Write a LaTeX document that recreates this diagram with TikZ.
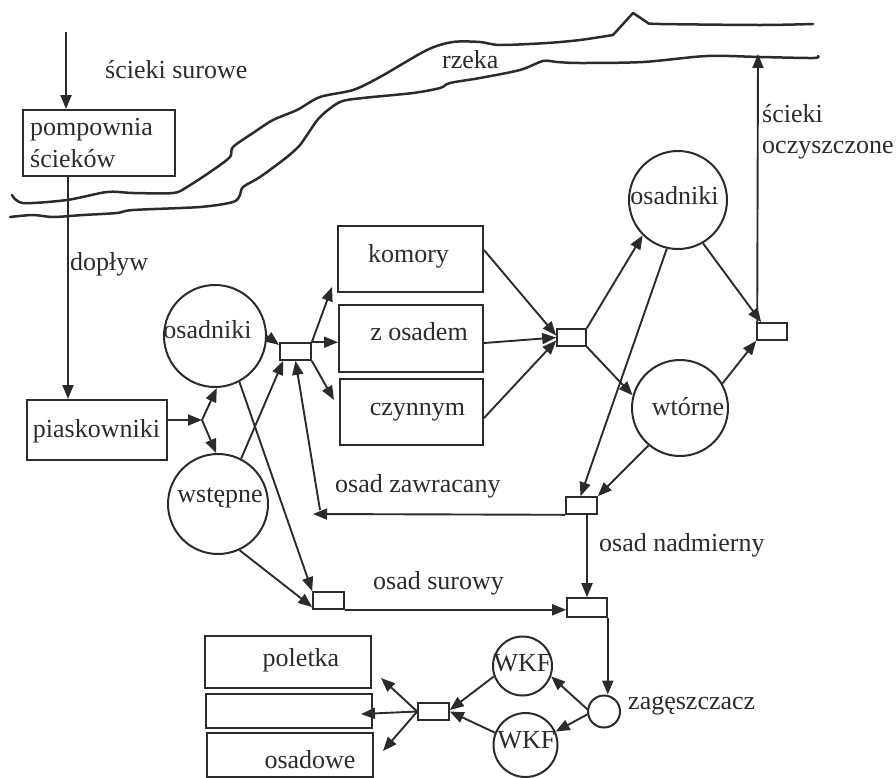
\documentclass[tikz,border=0pt]{standalone}
\usepackage{fontspec}
\setmainfont{Liberation Serif}
\usetikzlibrary{arrows.meta}
\definecolor{ink}{HTML}{2B2B2B}
\begin{document}
\begin{tikzpicture}[x=1pt,y=-1pt,color=ink,
  every node/.style={font=\fontsize{26pt}{32pt}\selectfont},
  arr/.style={line width=1.9pt,-{Triangle[length=14pt,width=11pt]}},
  box/.style={draw,line width=2pt,rectangle,inner sep=0pt},
  sbox/.style={box,line width=1.6pt,minimum width=30pt,minimum height=17pt},
  circ/.style={draw,circle,line width=2pt,inner sep=0pt},
  lbl/.style={anchor=base west,inner sep=0pt},
  ctr/.style={anchor=base,inner sep=0pt},
  river/.style={line width=2.5pt,line cap=round,line join=round}]
\useasboundingbox (0,0) rectangle (896,777);

% river
\draw[river] plot[smooth,tension=0.5] coordinates {(12,195) (23,203) (67,200) (107,192) (133,193) (173,193) (187,187) (213,170) (230,157) (233,147) (253,133) (273,120) (297,110) (320,97) (353,90) (380,77) (427,50) (453,42) (480,42) (500,45) (547,43) (580,40) (613,35)};
\draw[river] (613,35) -- (633,13) -- (648,23);
\draw[river] plot[smooth,tension=0.5] coordinates {(648,23) (660,24) (760,25) (813,24)};
\draw[river] plot[smooth,tension=0.5] coordinates {(10,217) (33,215) (53,217) (83,215) (117,213) (133,210) (200,207) (233,202) (240,195) (243,187) (260,177) (287,157) (300,145) (307,135) (320,117) (340,102) (363,98) (413,93) (440,88) (450,83) (480,78) (520,70) (543,61) (557,62) (580,63) (643,62) (707,56) (760,57) (813,58) (818,56)};

% boxes
\node[box,minimum width=152pt,minimum height=66pt] (pomp) at (99,143) {};
\node[box,minimum width=140pt,minimum height=60pt] (piask) at (97,430) {};
\node[box,minimum width=145pt,minimum height=66pt] (komory) at (410.5,259) {};
\node[box,minimum width=144pt,minimum height=67pt] (zosadem) at (411,338.5) {};
\node[box,minimum width=143pt,minimum height=66pt] (czynnym) at (411.5,412) {};
\node[box,minimum width=166pt,minimum height=52pt] (pol1) at (288,661.5) {};
\node[box,minimum width=166pt,minimum height=34pt] (pol2) at (289,711) {};
\node[box,minimum width=166pt,minimum height=44pt] (pol3) at (290,755) {};

% circles
\node[circ,minimum size=102pt] (osL) at (215,336) {};
\node[circ,minimum size=100pt] (wst) at (218,504) {};
\node[circ,minimum size=98pt] (osR) at (678,200) {};
\node[circ,minimum size=96pt] (wt) at (680,408) {};
\node[circ,minimum size=32pt] (zag) at (604,711.5) {};
\node[circ,minimum size=59pt] (wkf1) at (522.5,666) {};
\node[circ,minimum size=64pt] (wkf2) at (525.5,745) {};

% small boxes
\node[sbox,minimum width=31pt] (b1) at (295.5,351.5) {};
\node[sbox,minimum width=29pt] (b2) at (571.5,337.5) {};
\node[sbox] (b3) at (772,331.5) {};
\node[sbox,minimum width=31pt] (b4) at (581.5,505.5) {};
\node[sbox,minimum width=31pt] (b5) at (328.5,600.5) {};
\node[sbox,minimum width=40pt,minimum height=19pt] (b6) at (587,607.5) {};
\node[sbox,minimum width=31pt] (b7) at (433.5,711.5) {};

% texts in shapes
\node[lbl] (tpomp1) at (30,135) {pompownia};
\node[lbl] (tpomp2) at (30,167) {ścieków};
\node[ctr] (tpiask) at (96.5,437) {piaskowniki};
\node[ctr] (tkom) at (408.5,262) {komory};
\node[ctr] (tzos) at (419,340) {z osadem};
\node[ctr] (tczy) at (417.5,415) {czynnym};
\node[ctr] (tpol1) at (301,666) {poletka};
\node[ctr] (tpol3) at (310,768) {osadowe};
\node[ctr] (tosL) at (207.5,338) {osadniki};
\node[ctr] (twst) at (220,502) {wstępne};
\node[ctr] (tosR) at (674.5,204) {osadniki};
\node[ctr] (twt) at (688,415) {wtórne};
\node[ctr] (twkf1) at (522.5,671) {WKF};
\node[ctr] (twkf2) at (526.5,748) {WKF};

% labels
\node[lbl] (lss) at (105,78) {ścieki surowe};
\node[lbl] (lrz) at (442,68) {rzeka};
\node[lbl] (lsc1) at (762,122) {ścieki};
\node[lbl] (lsc2) at (762,153) {oczyszczone};
\node[lbl] (ldop) at (70,270) {dopływ};
\node[lbl] (lzaw) at (335,492) {osad zawracany};
\node[lbl] (lnad) at (599,551) {osad nadmierny};
\node[lbl] (lsur) at (373,589) {osad surowy};
\node[lbl] (lzag) at (628,709) {zagęszczacz};

% coordinates
\coordinate (in) at (66,32);
\coordinate (br) at (202,420);
\coordinate (r1) at (320,510);
\coordinate (zl) at (313,514);
\coordinate (out) at (758,54);

% connectors
\draw[arr] (in) -- (in |- pomp.north);
\draw[arr] ([xshift=-31pt]pomp.south) -- ([xshift=-29pt]piask.north);
\draw[arr] (piask.east |- br) -- (br);
\draw[arr] (br) -- (osL.-88);
\draw[arr] (br) -- (wst.92);
\draw[arr] (osL.east) -- ([yshift=6.5pt]b1.west);
\draw[arr] (wst.63) -- ([xshift=4pt]b1.south west);
\draw[arr] (r1) -- (b1.south);
\draw[arr] (b4.south west) -- (zl);
\draw[arr] (b1.north east) -- ([xshift=-5pt,yshift=6pt]komory.south west);
\draw[arr] (b1.north east) -- (zosadem.west |- b1.north east);
\draw[arr] (b1.south east) -- ([xshift=-5pt,yshift=12pt]czynnym.west);
\draw[arr] ([yshift=9pt]komory.east) -- ([yshift=2pt]b2.west);
\draw[arr] ([yshift=-4.5pt]zosadem.east) -- (b2.west);
\draw[arr] ([yshift=-6pt]czynnym.east) -- ([yshift=-3pt]b2.west);
\draw[arr] (b2.north east) -- (osR.225);
\draw[arr] (b2.south east) -- (wt.165);
\draw[arr] (osR.-60) -- ([xshift=5pt]b3.north west);
\draw[arr] (wt.30) -- (b3.south west);
\draw[arr] ([xshift=1pt]b3.north west) -- (out);
\draw[arr] (osR.-103) -- ([xshift=-1pt]b4.north);
\draw[arr] (wt.-130) -- (b4.north east);
\draw[arr] ([xshift=5.5pt]b4.south) -- (b6.north);
\draw[arr] (osL.-62) -- (b5.north west);
\draw[arr] (wst.-65) -- ([yshift=-6.5pt]b5.west);
\draw[arr] (b5.south east) -- (b6.west |- b5.south east);
\draw[arr] (b6.south east) -- (b6.south east |- zag.north);
\draw[arr] (zag.172) -- (wkf1.-20);
\draw[arr] (zag.190) -- (wkf2.24);
\draw[arr] (wkf1.-160) -- ([yshift=1.5pt]b7.east);
\draw[arr] (wkf2.158) -- (b7.east);
\draw[arr] (b7.west) -- ([xshift=9pt,yshift=10.5pt]pol1.south east);
\draw[arr] (b7.west) -- ([xshift=-12pt,yshift=-3pt]pol2.east);
\draw[arr] (b7.west) -- ([xshift=9pt,yshift=-19pt]pol3.north east);
\end{tikzpicture}
\end{document}
